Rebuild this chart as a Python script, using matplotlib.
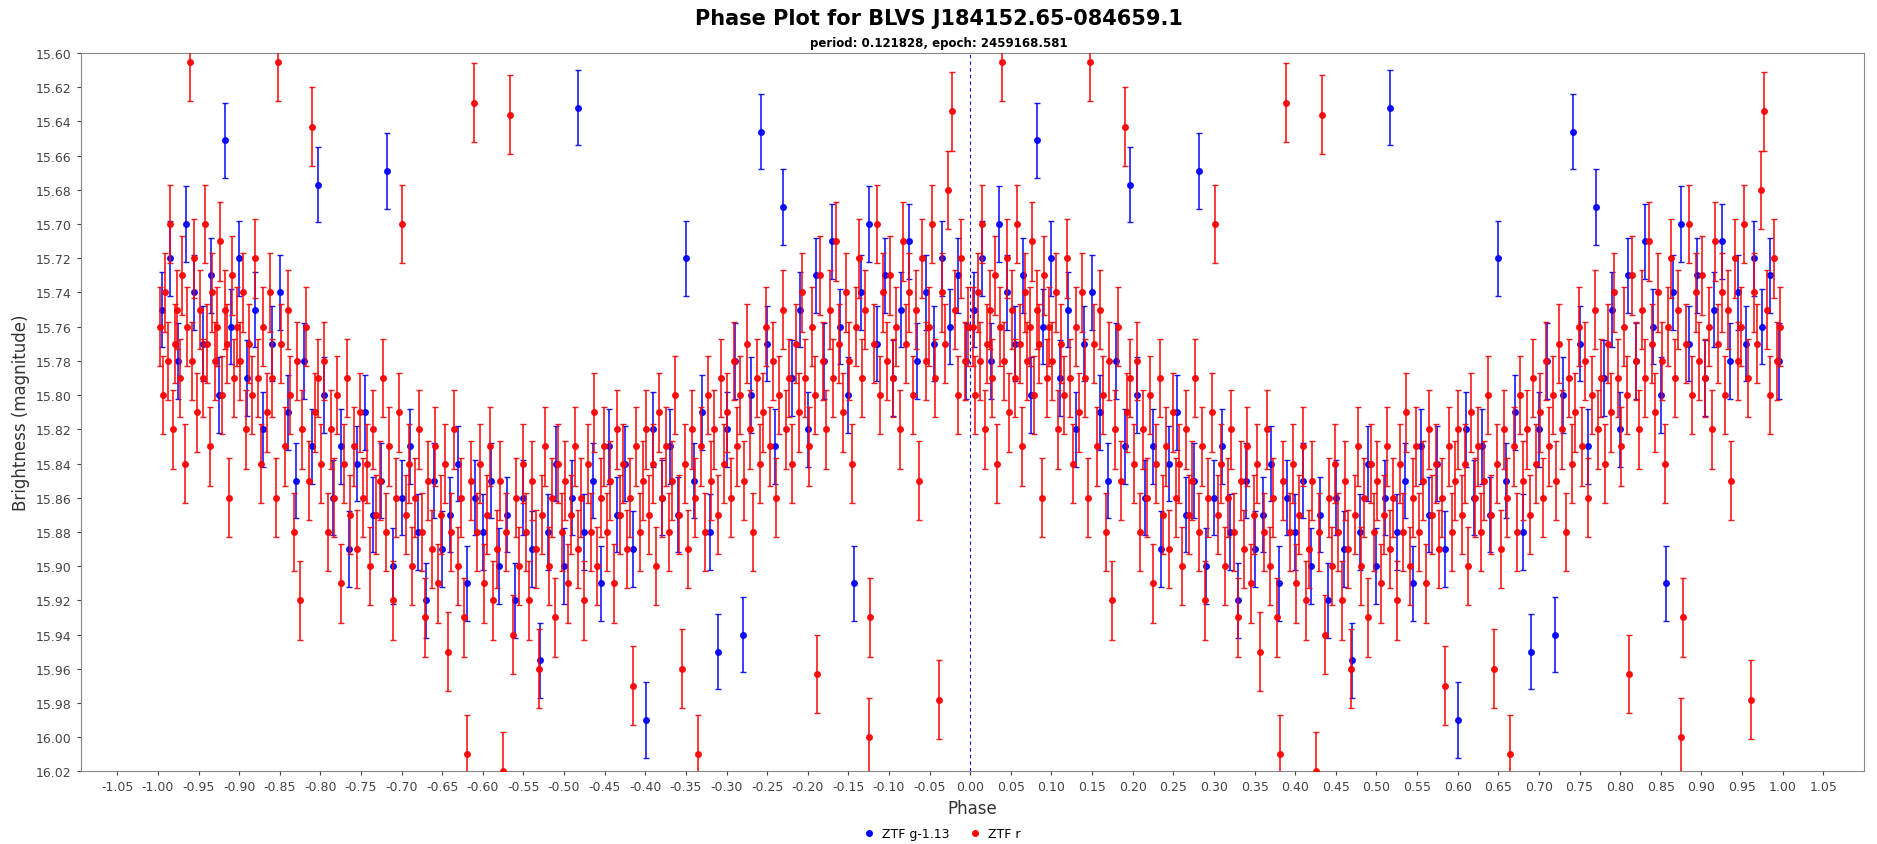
import numpy as np
import matplotlib.pyplot as plt
from matplotlib.lines import Line2D

# phase 0..1 values; phase -1..0 is the same data shifted by -1
r_phase = [0.003, 0.006, 0.009, 0.012, 0.015, 0.018, 0.021, 0.024, 0.027, 0.030, 0.033, 0.036, 0.039, 0.042, 0.045, 0.048,
           0.052, 0.055, 0.058, 0.061, 0.064, 0.067, 0.070, 0.073, 0.076, 0.079, 0.082, 0.085, 0.088, 0.091, 0.094, 0.097,
           0.101, 0.105, 0.108, 0.112, 0.116, 0.119, 0.123, 0.127, 0.130, 0.134, 0.138, 0.141, 0.145, 0.148, 0.152, 0.156,
           0.160, 0.163, 0.167, 0.171, 0.175, 0.178, 0.182, 0.186, 0.190, 0.193, 0.197,
           0.201, 0.205, 0.209, 0.213, 0.217, 0.221, 0.225, 0.229, 0.233, 0.237, 0.241, 0.245, 0.249, 0.253, 0.257, 0.261,
           0.265, 0.269, 0.273, 0.277, 0.281, 0.285, 0.289, 0.293, 0.297,
           0.301, 0.305, 0.309, 0.313, 0.317, 0.321, 0.325, 0.329, 0.333, 0.337, 0.341, 0.345, 0.349, 0.353, 0.357, 0.361,
           0.365, 0.369, 0.373, 0.377, 0.381, 0.385, 0.389, 0.393, 0.397,
           0.401, 0.405, 0.409, 0.413, 0.417, 0.421, 0.425, 0.429, 0.433, 0.437, 0.441, 0.445, 0.449, 0.453, 0.457, 0.461,
           0.465, 0.469, 0.473, 0.477, 0.481, 0.485, 0.489, 0.493, 0.497,
           0.501, 0.505, 0.509, 0.513, 0.517, 0.521, 0.525, 0.529, 0.533, 0.537, 0.541, 0.545, 0.549, 0.553, 0.557, 0.561,
           0.565, 0.569, 0.573, 0.577, 0.581, 0.585, 0.589, 0.593, 0.597,
           0.601, 0.605, 0.609, 0.613, 0.617, 0.621, 0.625, 0.629, 0.633, 0.637, 0.641, 0.645, 0.649, 0.653, 0.657, 0.661,
           0.665, 0.669, 0.673, 0.677, 0.681, 0.685, 0.689, 0.693, 0.697,
           0.701, 0.705, 0.709, 0.713, 0.717, 0.721, 0.725, 0.729, 0.733, 0.737, 0.741, 0.745, 0.749, 0.753, 0.757, 0.761,
           0.765, 0.769, 0.773, 0.777, 0.781, 0.785, 0.789, 0.793, 0.797,
           0.801, 0.805, 0.809, 0.811, 0.815, 0.819, 0.823, 0.827, 0.831, 0.835, 0.839, 0.843, 0.847, 0.851, 0.855, 0.859,
           0.863, 0.867, 0.871, 0.875, 0.877, 0.881, 0.885, 0.889, 0.893, 0.897,
           0.901, 0.905, 0.909, 0.913, 0.917, 0.921, 0.925, 0.929, 0.933, 0.937, 0.941, 0.945, 0.949, 0.953, 0.957, 0.961,
           0.965, 0.969, 0.973, 0.977, 0.981, 0.985, 0.989, 0.993, 0.997]
r_mag = [15.76, 15.80, 15.74, 15.78, 15.70, 15.82, 15.77, 15.75, 15.79, 15.73, 15.84, 15.76, 15.605, 15.78, 15.72, 15.81,
         15.75, 15.79, 15.70, 15.77, 15.83, 15.74, 15.78, 15.76, 15.71, 15.80, 15.75, 15.77, 15.86, 15.73, 15.79, 15.76,
         15.78, 15.74, 15.82, 15.77, 15.80, 15.72, 15.79, 15.84, 15.76, 15.81, 15.74, 15.79, 15.86, 15.605, 15.77, 15.83,
         15.75, 15.80, 15.88, 15.78, 15.92, 15.82, 15.76, 15.85, 15.643, 15.81, 15.79,
         15.84, 15.78, 15.88, 15.82, 15.86, 15.80, 15.91, 15.84, 15.79, 15.87, 15.83, 15.89, 15.81, 15.86, 15.84, 15.90,
         15.82, 15.87, 15.85, 15.79, 15.88, 15.83, 15.92, 15.86, 15.81,
         15.70, 15.87, 15.84, 15.90, 15.86, 15.82, 15.88, 15.93, 15.85, 15.89, 15.83, 15.91, 15.87, 15.84, 15.95, 15.88,
         15.82, 15.90, 15.86, 15.93, 16.01, 15.85, 15.629, 15.88, 15.84,
         15.91, 15.87, 15.83, 15.92, 15.89, 15.85, 16.02, 15.88, 15.636, 15.94, 15.86, 15.90, 15.84, 15.88, 15.92, 15.85,
         15.89, 15.96, 15.87, 15.83, 15.90, 15.86, 15.93, 15.84, 15.88,
         15.85, 15.91, 15.87, 15.83, 15.89, 15.86, 15.92, 15.84, 15.88, 15.81, 15.90, 15.86, 15.83, 15.88, 15.85, 15.91,
         15.82, 15.87, 15.84, 15.89, 15.86, 15.97, 15.83, 15.88, 15.85,
         15.82, 15.87, 15.84, 15.90, 15.81, 15.86, 15.83, 15.88, 15.85, 15.80, 15.87, 15.96, 15.84, 15.89, 15.82, 15.86,
         16.01, 15.83, 15.88, 15.80, 15.85, 15.82, 15.87, 15.79, 15.84,
         15.81, 15.86, 15.78, 15.83, 15.80, 15.85, 15.77, 15.82, 15.88, 15.79, 15.84, 15.81, 15.76, 15.83, 15.78, 15.86,
         15.80, 15.75, 15.82, 15.79, 15.84, 15.77, 15.81, 15.74, 15.79,
         15.83, 15.76, 15.80, 15.963, 15.73, 15.78, 15.82, 15.75, 15.79, 15.71, 15.77, 15.81, 15.74, 15.78, 15.84, 15.76,
         15.72, 15.79, 15.75, 16.00, 15.93, 15.77, 15.70, 15.80, 15.74, 15.78,
         15.73, 15.79, 15.76, 15.82, 15.71, 15.77, 15.74, 15.80, 15.75, 15.85, 15.72, 15.78, 15.76, 15.70, 15.79, 15.978,
         15.74, 15.77, 15.68, 15.634, 15.75, 15.80, 15.72, 15.78, 15.76]
r_err = 0.023

g_phase = [0.005, 0.015, 0.025, 0.035, 0.045, 0.055, 0.065, 0.075, 0.082, 0.090, 0.100, 0.110, 0.120, 0.130, 0.140,
           0.150, 0.160, 0.170, 0.180, 0.190, 0.197, 0.205, 0.215, 0.225, 0.235, 0.245, 0.255, 0.265, 0.275, 0.282,
           0.290, 0.300, 0.310, 0.320, 0.330, 0.340, 0.350, 0.360, 0.370, 0.380, 0.390, 0.400, 0.410, 0.420, 0.430,
           0.440, 0.450, 0.460, 0.470, 0.480, 0.490, 0.500, 0.510, 0.517, 0.525, 0.535, 0.545, 0.555, 0.565, 0.575,
           0.585, 0.601, 0.610, 0.620, 0.630, 0.640, 0.650, 0.660, 0.670, 0.680, 0.690, 0.700, 0.710, 0.720, 0.730,
           0.742, 0.750, 0.760, 0.770, 0.780, 0.790, 0.800, 0.810, 0.820, 0.830, 0.840, 0.850, 0.857, 0.865, 0.875,
           0.885, 0.895, 0.905, 0.915, 0.925, 0.935, 0.945, 0.955, 0.965, 0.975, 0.985, 0.995]
g_mag = [15.75, 15.72, 15.78, 15.70, 15.74, 15.77, 15.73, 15.80, 15.651, 15.76, 15.72, 15.79, 15.75, 15.82, 15.77,
         15.74, 15.81, 15.85, 15.78, 15.83, 15.677, 15.80, 15.86, 15.83, 15.89, 15.84, 15.81, 15.87, 15.85, 15.669,
         15.90, 15.86, 15.83, 15.88, 15.92, 15.85, 15.89, 15.87, 15.84, 15.91, 15.86, 15.88, 15.85, 15.90, 15.87,
         15.92, 15.86, 15.89, 15.955, 15.88, 15.84, 15.90, 15.86, 15.632, 15.88, 15.85, 15.91, 15.83, 15.87, 15.84,
         15.89, 15.99, 15.82, 15.86, 15.83, 15.87, 15.72, 15.85, 15.81, 15.88, 15.95, 15.82, 15.78, 15.94, 15.80,
         15.646, 15.77, 15.83, 15.69, 15.79, 15.75, 15.82, 15.73, 15.78, 15.71, 15.76, 15.80, 15.91, 15.74, 15.70,
         15.77, 15.73, 15.79, 15.75, 15.71, 15.78, 15.74, 15.77, 15.72, 15.76, 15.73, 15.78]
g_err = 0.022

fig = plt.figure(figsize=(18.77, 8.45), dpi=100)
ax = fig.add_axes([0.043, 0.086, 0.950, 0.850])

for ph, mg, err, col in [(r_phase, r_mag, r_err, "#ff0000"), (g_phase, g_mag, g_err, "#0000ff")]:
    ph = np.array(ph)
    mg = np.array(mg)
    for x in (ph - 1, ph):
        ax.errorbar(x, mg, yerr=err, fmt="o", color=col, ms=4, elinewidth=1.2,
                    capsize=2, capthick=1, alpha=0.9, zorder=2 if col == "#0000ff" else 3)

ax.axvline(0, color="#0000ff", lw=0.8, ls=(0, (3, 3)), zorder=1)

ax.set_xlim(-1.095, 1.1)
ax.set_ylim(16.02, 15.60)
ax.set_xticks(np.round(np.arange(-1.05, 1.06, 0.05), 2))
ax.set_xticklabels([f"{v:.2f}" for v in np.arange(-1.05, 1.06, 0.05)])
ax.set_yticks(np.round(np.arange(15.60, 16.021, 0.02), 2))
ax.set_yticklabels([f"{v:.2f}" for v in np.arange(15.60, 16.021, 0.02)])
ax.tick_params(labelsize=9, colors="#444444", length=3)
for s in ax.spines.values():
    s.set_color("#888888")
ax.set_xlabel("Phase", fontsize=12, color="#333333")
ax.set_ylabel("Brightness (magnitude)", fontsize=12, color="#333333")

fig.text(0.5, 0.978, "Phase Plot for BLVS J184152.65-084659.1", ha="center", va="center",
         fontsize=15, fontweight="bold")
fig.text(0.5, 0.949, "period: 0.121828, epoch: 2459168.581", ha="center", va="center",
         fontsize=8.5, fontweight="bold")

handles = [Line2D([], [], marker="o", ls="", color="#0000ff", ms=4, label="ZTF g-1.13"),
           Line2D([], [], marker="o", ls="", color="#ff0000", ms=4, label="ZTF r")]
fig.legend(handles=handles, loc="center", bbox_to_anchor=(0.5, 0.012), ncol=2, frameon=False,
           fontsize=9, handletextpad=0.1, columnspacing=1.0)

fig.savefig("out.png", dpi=100)
